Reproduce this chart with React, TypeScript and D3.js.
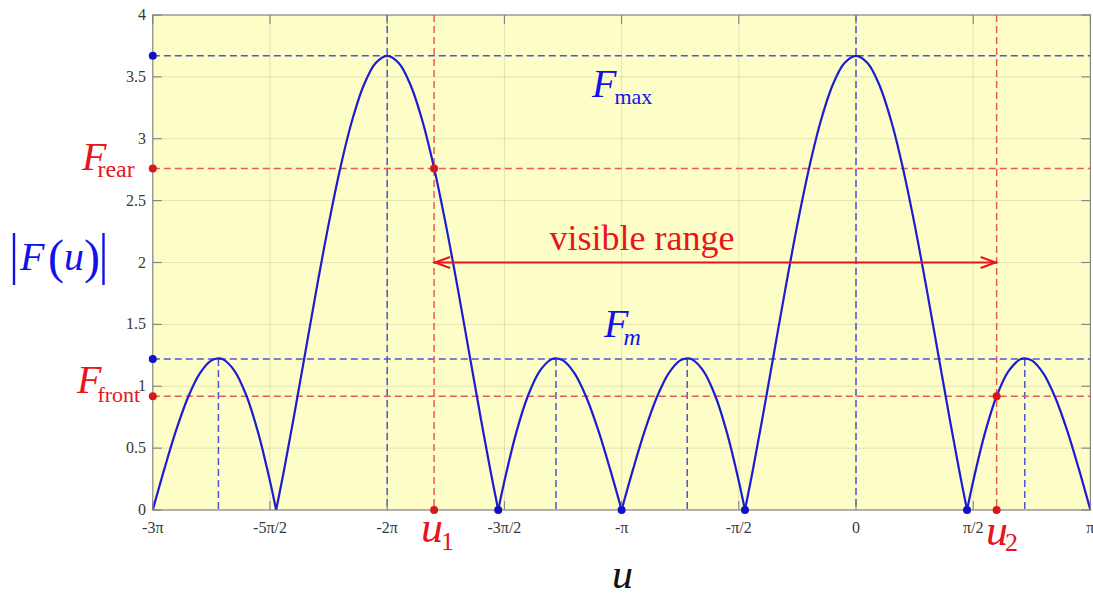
import React from 'react';
import * as d3 from 'd3';

// Horizontal axis, in multiples of π
const xTickValues = [-3, -2.5, -2, -1.5, -1, -0.5, 0, 0.5, 1];
const xTickLabels = ['-3π', '-5π/2', '-2π', '-3π/2', '-π', '-π/2', '0', 'π/2', 'π'];
const yTickValues = [0, 0.5, 1, 1.5, 2, 2.5, 3, 3.5, 4];
const yTickLabels = ['0', '0.5', '1', '1.5', '2', '2.5', '3', '3.5', '4'];

// |F(u)| sampled along u (u in units of π)
const uSamples = [
  -3, -2.95, -2.9, -2.85, -2.8, -2.75, -2.72, -2.7, -2.65, -2.6, -2.55, -2.5, -2.4737,
  -2.44, -2.4, -2.35, -2.3, -2.25, -2.2, -2.15, -2.1, -2.05, -2, -1.95, -1.9, -1.85, -1.8,
  -1.75, -1.7, -1.65, -1.6, -1.56, -1.5263,
  -1.5, -1.45, -1.4, -1.35, -1.3, -1.28, -1.25, -1.2, -1.15, -1.1, -1.05, -1,
  -0.95, -0.9, -0.85, -0.8, -0.75, -0.72, -0.7, -0.65, -0.6, -0.55, -0.5, -0.4737,
  -0.44, -0.4, -0.35, -0.3, -0.25, -0.2, -0.15, -0.1, -0.05, 0, 0.05, 0.1, 0.15, 0.2,
  0.25, 0.3, 0.35, 0.4, 0.44, 0.4737,
  0.5, 0.55, 0.6, 0.65, 0.7, 0.72, 0.75, 0.8, 0.85, 0.9, 0.95, 1,
];
const magnitude = [
  0, 0.336, 0.647, 0.909, 1.102, 1.209, 1.226, 1.217, 1.121, 0.921, 0.621, 0.233, 0,
  0.323, 0.733, 1.267, 1.801, 2.308, 2.764, 3.145, 3.432, 3.61, 3.67, 3.61, 3.432, 3.145, 2.764,
  2.308, 1.801, 1.267, 0.733, 0.323, 0,
  0.233, 0.621, 0.921, 1.121, 1.217, 1.226, 1.209, 1.102, 0.909, 0.647, 0.336, 0,
  0.336, 0.647, 0.909, 1.102, 1.209, 1.226, 1.217, 1.121, 0.921, 0.621, 0.233, 0,
  0.323, 0.733, 1.267, 1.801, 2.308, 2.764, 3.145, 3.432, 3.61, 3.67, 3.61, 3.432, 3.145, 2.764,
  2.308, 1.801, 1.267, 0.733, 0.323, 0,
  0.233, 0.621, 0.921, 1.121, 1.217, 1.226, 1.209, 1.102, 0.909, 0.647, 0.336, 0,
];

// Reference levels and positions
const F_MAX = 3.67;
const F_M = 1.22;
const F_REAR = 2.76;
const F_FRONT = 0.92;
const U1 = -1.8;
const U2 = 0.6;
const mainPeaks = [-2, 0];
const sidePeaks = [-2.72, -1.28, -0.72, 0.72];
const markedNulls = [-1.5263, -1, -0.4737, 0.4737];
const arrowLevel = 2;

const W = 1093;
const H = 596;
const BLUE = '#1c1cd2';
const BLUE_DASH = '#5252d8';
const RED = '#e8141c';
const RED_DASH = '#e85a5a';
const TEXT_BLUE = '#1212e6';
const SERIF = '"Liberation Serif", "Times New Roman", serif';

export default function App() {
  const x = d3.scaleLinear().domain([-3, 1]).range([152.8, 1090.4]);
  const y = d3.scaleLinear().domain([0, 4]).range([510, 15]);
  const [x0, x1] = x.range();
  const [yb, yt] = y.range();

  // Split the curve into lobes at its nulls so the cusps stay sharp
  const pts = uSamples.map((u, i) => [u, magnitude[i]] as [number, number]);
  const lobes: [number, number][][] = [];
  let cur: [number, number][] = [];
  pts.forEach((p, i) => {
    cur.push(p);
    if (p[1] === 0 && i > 0) {
      lobes.push(cur);
      cur = [p];
    }
  });
  const line = d3
    .line<[number, number]>()
    .x((d) => x(d[0]))
    .y((d) => y(d[1]))
    .curve(d3.curveCatmullRom.alpha(0.5));

  const tickLen = 9;
  const dash = '7 4';

  const ay = y(arrowLevel);
  const ax1 = x(U1);
  const ax2 = x(U2);

  return (
    <svg
      width={W}
      height={H}
      style={{ position: 'absolute', left: 0, top: 0, background: '#ffffff' }}
      fontFamily={SERIF}
    >
      <rect x={x0} y={yt} width={x1 - x0} height={yb - yt} fill="#fdfdc8" />

      {/* grid */}
      <g stroke="#000" strokeOpacity={0.1} strokeWidth={1}>
        {xTickValues.map((v) => (
          <line key={'gx' + v} x1={x(v)} x2={x(v)} y1={yt} y2={yb} />
        ))}
        {yTickValues.map((v) => (
          <line key={'gy' + v} x1={x0} x2={x1} y1={y(v)} y2={y(v)} />
        ))}
      </g>

      {/* reference levels */}
      <g stroke={BLUE_DASH} strokeWidth={1.5} strokeDasharray={dash} fill="none">
        <line x1={x0} x2={x1} y1={y(F_MAX)} y2={y(F_MAX)} />
        <line x1={x0} x2={x1} y1={y(F_M)} y2={y(F_M)} />
        {mainPeaks.map((u) => (
          <line key={'mp' + u} x1={x(u)} x2={x(u)} y1={yt} y2={yb} />
        ))}
        {sidePeaks.map((u) => (
          <line key={'sp' + u} x1={x(u)} x2={x(u)} y1={y(F_M)} y2={yb} />
        ))}
      </g>
      <g stroke={RED_DASH} strokeWidth={1.5} strokeDasharray={dash} fill="none">
        <line x1={x0} x2={x1} y1={y(F_REAR)} y2={y(F_REAR)} />
        <line x1={x0} x2={x1} y1={y(F_FRONT)} y2={y(F_FRONT)} />
        <line x1={ax1} x2={ax1} y1={yt} y2={yb} />
        <line x1={ax2} x2={ax2} y1={yt} y2={yb} />
      </g>

      {/* |F(u)| */}
      <g fill="none" stroke={BLUE} strokeWidth={2.2} strokeLinejoin="round">
        {lobes.map((lobe, i) => (
          <path key={'lobe' + i} d={line(lobe) || ''} />
        ))}
      </g>

      {/* visible range arrow */}
      <g stroke={RED} strokeWidth={2} fill="none">
        <line x1={ax1} x2={ax2} y1={ay} y2={ay} />
        <polyline points={`${ax1 + 16},${ay - 5.5} ${ax1 + 1},${ay} ${ax1 + 16},${ay + 5.5}`} />
        <polyline points={`${ax2 - 16},${ay - 5.5} ${ax2 - 1},${ay} ${ax2 - 16},${ay + 5.5}`} />
      </g>

      {/* frame and ticks */}
      <g stroke="#808080" strokeWidth={1.1} fill="none">
        <rect x={x0} y={yt} width={x1 - x0} height={yb - yt} />
        {xTickValues.map((v) => (
          <g key={'tx' + v}>
            <line x1={x(v)} x2={x(v)} y1={yb} y2={yb - tickLen} />
            <line x1={x(v)} x2={x(v)} y1={yt} y2={yt + tickLen} />
          </g>
        ))}
        {yTickValues.map((v) => (
          <g key={'ty' + v}>
            <line x1={x0} x2={x0 + tickLen} y1={y(v)} y2={y(v)} />
            <line x1={x1} x2={x1 - tickLen} y1={y(v)} y2={y(v)} />
          </g>
        ))}
      </g>

      {/* markers */}
      <g fill="#1010c8">
        <circle cx={x0} cy={y(F_MAX)} r={4} />
        <circle cx={x0} cy={y(F_M)} r={4} />
        {markedNulls.map((u) => (
          <circle key={'n' + u} cx={x(u)} cy={yb} r={4} />
        ))}
      </g>
      <g fill="#d81818">
        <circle cx={x0} cy={y(F_REAR)} r={4} />
        <circle cx={x0} cy={y(F_FRONT)} r={4} />
        <circle cx={ax1} cy={yb} r={4} />
        <circle cx={ax2} cy={yb} r={4} />
        <circle cx={ax1} cy={y(F_REAR)} r={4} />
        <circle cx={ax2} cy={y(F_FRONT)} r={4} />
      </g>

      {/* tick labels */}
      <g fontSize={16} fill="#383838">
        {yTickValues.map((v, i) => (
          <text key={'ly' + v} x={146} y={y(v) + 5} textAnchor="end">
            {yTickLabels[i]}
          </text>
        ))}
        {xTickValues.map((v, i) => (
          <text key={'lx' + v} x={x(v)} y={533} textAnchor="middle">
            {xTickLabels[i]}
          </text>
        ))}
      </g>

      {/* annotations */}
      <text x={642} y={250} fontSize={36} fill={RED} textAnchor="middle">
        visible range
      </text>
      <text x={592} y={97} fill={TEXT_BLUE}>
        <tspan fontSize={40} fontStyle="italic">F</tspan>
        <tspan fontSize={22} dy={7} dx={-2}>max</tspan>
      </text>
      <text x={604} y={337} fill={TEXT_BLUE}>
        <tspan fontSize={40} fontStyle="italic">F</tspan>
        <tspan fontSize={24} fontStyle="italic" dy={8} dx={-5}>m</tspan>
      </text>
      <text x={82} y={170} fill={RED}>
        <tspan fontSize={40} fontStyle="italic">F</tspan>
        <tspan fontSize={24} dy={7} dx={-9}>rear</tspan>
      </text>
      <text x={77} y={393} fill={RED}>
        <tspan fontSize={40} fontStyle="italic">F</tspan>
        <tspan fontSize={22} dy={9} dx={-4}>front</tspan>
      </text>

      {/* |F(u)| axis title */}
      <g fill={TEXT_BLUE}>
        <line x1={14} x2={14} y1={233} y2={285} stroke={TEXT_BLUE} strokeWidth={2.4} />
        <line x1={103.5} x2={103.5} y1={233} y2={285} stroke={TEXT_BLUE} strokeWidth={2.4} />
        <text x={20} y={270} fontSize={40} fontStyle="italic">F</text>
        <text x={48} y={273} fontSize={48}>(</text>
        <text x={64} y={270} fontSize={40} fontStyle="italic">u</text>
        <text x={84} y={273} fontSize={48}>)</text>
      </g>

      {/* u1, u2 and axis title */}
      <text x={421} y={542} fill={RED}>
        <tspan fontSize={44} fontStyle="italic">u</tspan>
        <tspan fontSize={26} dy={8} dx={-2}>1</tspan>
      </text>
      <text x={986} y={545} fill={RED}>
        <tspan fontSize={44} fontStyle="italic">u</tspan>
        <tspan fontSize={26} dy={6} dx={-3}>2</tspan>
      </text>
      <text x={612} y={588} fontSize={42} fontStyle="italic" fill="#111">
        u
      </text>
    </svg>
  );
}
